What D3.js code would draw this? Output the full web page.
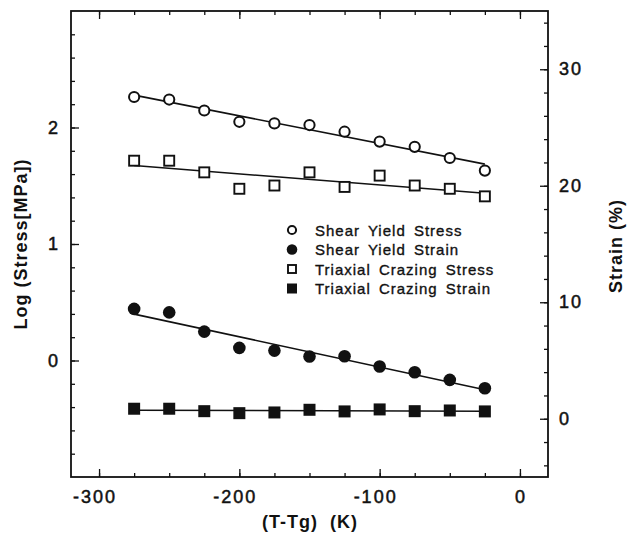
<!DOCTYPE html>
<html>
<head>
<meta charset="utf-8">
<script src="https://cdn.jsdelivr.net/npm/d3@7/dist/d3.min.js"></script>
<style>
  html, body { margin: 0; padding: 0; background: #fff; }
  svg text { font-family: "Liberation Sans", Arial, Helvetica, sans-serif; fill: #111; }
  .tick-lab { font-size: 18px; letter-spacing: 2px; stroke: #111; stroke-width: 0.5px; }
  .ax-title { font-size: 18px; font-weight: 700; letter-spacing: 1px; }
  .leg-text { font-size: 15px; letter-spacing: 1px; word-spacing: 3px; stroke: #111; stroke-width: 0.35px; }
</style>
</head>
<body>
<div id="chart"></div>
<script>
// data
const tempDiff = [-275, -250, -225, -200, -175, -150, -125, -100, -75, -50, -25];
const shearYieldStress = [2.262, 2.240, 2.146, 2.049, 2.035, 2.021, 1.964, 1.879, 1.834, 1.738, 1.630];
const crazingStress    = [1.715, 1.715, 1.615, 1.474, 1.502, 1.615, 1.490, 1.587, 1.502, 1.474, 1.409];
const shearYieldStrain = [9.43, 9.13, 7.48, 6.08, 5.85, 5.34, 5.36, 4.48, 3.99, 3.34, 2.62];
const crazingStrain    = [0.86, 0.86, 0.65, 0.48, 0.54, 0.77, 0.63, 0.80, 0.65, 0.71, 0.63];

const xTickLabels = [-300, -200, -100, 0];
const leftTickLabels = [0, 1, 2];
const rightTickLabels = [0, 10, 20, 30];

const legendNames = ["Shear Yield Stress", "Shear Yield Strain", "Triaxial Crazing Stress", "Triaxial Crazing Strain"];

const W = 628, H = 538;
const plot = { left: 71, right: 548, top: 11, bottom: 477 };

const svg = d3.select("#chart").append("svg")
  .attr("width", W).attr("height", H);

const x = d3.scaleLinear().domain([-320, 20]).range([plot.left, plot.right]);
const yL = d3.scaleLinear().domain([-1, 3]).range([plot.bottom, plot.top]);
const yR = d3.scaleLinear().domain([-5, 35]).range([plot.bottom, plot.top]);

// ---- ticks (all pointing inward) ----
function tickAxis(axis, transform) {
  const g = svg.append("g").attr("transform", transform).call(axis);
  g.select(".domain").remove();
  g.selectAll("line").attr("stroke", "#111").attr("stroke-width", 1.3);
  g.selectAll("text").remove();
  return g;
}
const xMinor = d3.range(-300, 1, 25);
const xMajor = [-300, -200, -100, 0];
tickAxis(d3.axisBottom(x).tickValues(xMinor).tickSize(-4), `translate(0,${plot.bottom})`);
tickAxis(d3.axisBottom(x).tickValues(xMajor).tickSize(-8), `translate(0,${plot.bottom})`);
tickAxis(d3.axisTop(x).tickValues(xMinor).tickSize(-4), `translate(0,${plot.top})`);
tickAxis(d3.axisTop(x).tickValues(xMajor).tickSize(-8), `translate(0,${plot.top})`);

const lMinor = d3.range(-0.8, 3, 0.2).map(v => +v.toFixed(1));
tickAxis(d3.axisLeft(yL).tickValues(lMinor).tickSize(-4), `translate(${plot.left},0)`);
tickAxis(d3.axisLeft(yL).tickValues(leftTickLabels).tickSize(-8), `translate(${plot.left},0)`);

const rMinor = d3.range(-4, 35, 2);
tickAxis(d3.axisRight(yR).tickValues(rMinor).tickSize(-4), `translate(${plot.right},0)`);
tickAxis(d3.axisRight(yR).tickValues(rightTickLabels).tickSize(-8), `translate(${plot.right},0)`);

// frame
svg.append("rect")
  .attr("x", plot.left).attr("y", plot.top)
  .attr("width", plot.right - plot.left).attr("height", plot.bottom - plot.top)
  .attr("fill", "none").attr("stroke", "#111").attr("stroke-width", 1.8);

// tick labels
svg.selectAll(".xlab").data(xTickLabels).enter().append("text")
  .attr("class", "tick-lab")
  .attr("x", d => x(d) + (d < 0 ? -4 : 1)).attr("y", 503)
  .attr("text-anchor", "middle")
  .text(d => d);

svg.selectAll(".llab").data(leftTickLabels).enter().append("text")
  .attr("class", "tick-lab")
  .attr("x", 60).attr("y", d => yL(d) + 6)
  .attr("text-anchor", "end")
  .text(d => d);

svg.selectAll(".rlab").data(rightTickLabels).enter().append("text")
  .attr("class", "tick-lab")
  .attr("x", 559).attr("y", d => yR(d) + 6)
  .attr("text-anchor", "start")
  .text(d => d);

// axis titles
svg.append("text").attr("class", "ax-title")
  .attr("x", 310).attr("y", 528).attr("text-anchor", "middle")
  .attr("xml:space", "preserve")
  .text("(T-Tg)  (K)");

svg.append("text").attr("class", "ax-title")
  .attr("transform", `translate(27,${(plot.top + plot.bottom) / 2}) rotate(-90)`)
  .attr("text-anchor", "middle")
  .text("Log (Stress[MPa])");

svg.append("text").attr("class", "ax-title")
  .attr("transform", `translate(622,246) rotate(-90)`)
  .attr("text-anchor", "middle")
  .text("Strain (%)");

// ---- least squares fit lines ----
function fit(xs, ys) {
  const mx = d3.mean(xs), my = d3.mean(ys);
  let sxy = 0, sxx = 0;
  xs.forEach((v, i) => { sxy += (v - mx) * (ys[i] - my); sxx += (v - mx) * (v - mx); });
  const b = sxy / sxx, a = my - b * mx;
  const ext = d3.extent(xs);
  return ext.map(v => [v, a + b * v]);
}

const series = [
  { vals: shearYieldStress, y: yL, shape: "circle", filled: false },
  { vals: shearYieldStrain, y: yR, shape: "circle", filled: true },
  { vals: crazingStress,    y: yL, shape: "square", filled: false },
  { vals: crazingStrain,    y: yR, shape: "square", filled: true }
];

const line = d3.line();
series.forEach(s => {
  const pts = fit(tempDiff, s.vals).map(p => [x(p[0]), s.y(p[1])]);
  svg.append("path").attr("d", line(pts))
    .attr("fill", "none").attr("stroke", "#111").attr("stroke-width", 1.6);
});

function marker(g, shape, filled, cx, cy, size) {
  if (shape === "circle") {
    g.append("circle").attr("cx", cx).attr("cy", cy)
      .attr("r", filled ? size / 2 + 0.8 : size / 2 - 0.4)
      .attr("fill", filled ? "#111" : "#fff")
      .attr("stroke", "#111").attr("stroke-width", filled ? 0 : 2);
  } else {
    const s = filled ? size + 1 : size - 1;
    g.append("rect").attr("x", cx - s / 2).attr("y", cy - s / 2)
      .attr("width", s).attr("height", s)
      .attr("fill", filled ? "#111" : "#fff")
      .attr("stroke", "#111").attr("stroke-width", filled ? 0 : 1.9);
  }
}

const markG = svg.append("g");
series.forEach(s => {
  s.vals.forEach((v, i) => marker(markG, s.shape, s.filled, x(tempDiff[i]), s.y(v), 11));
});

// legend
const leg = svg.append("g");
legendNames.forEach((name, i) => {
  const cy = 230 + i * 19.5;
  marker(leg, series[i].shape, series[i].filled, 292, cy, 9);
  leg.append("text").attr("class", "leg-text")
    .attr("x", 315).attr("y", cy + 5.5)
    .text(name);
});
</script>
</body>
</html>
